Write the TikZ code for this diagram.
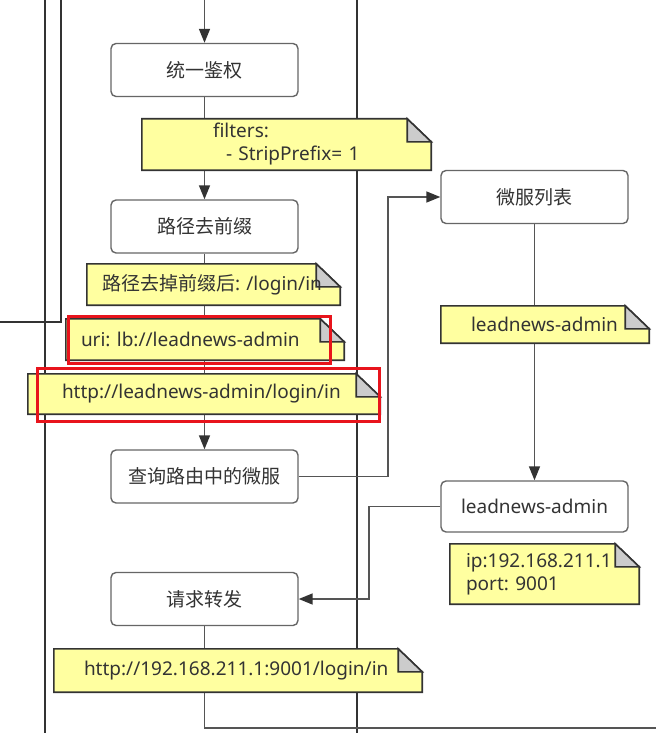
\documentclass[tikz,border=0pt]{standalone}
\usepackage{fontspec}
\setmainfont{Noto Sans}
\newfontfamily\cjk{Noto Sans CJK SC}
\usetikzlibrary{arrows.meta}
\frenchspacing
\definecolor{txt}{HTML}{333333}
\definecolor{boxgray}{HTML}{666666}
\definecolor{linegray}{HTML}{555555}
\definecolor{arrowgray}{HTML}{333333}
\definecolor{lanegray}{HTML}{333333}
\definecolor{notefill}{HTML}{FFFFA0}
\definecolor{noteline}{HTML}{333333}
\definecolor{foldfill}{HTML}{CCCCCC}
\definecolor{redmark}{HTML}{E8141C}
\pgfdeclarelayer{lines}
\pgfdeclarelayer{notes}
\pgfsetlayers{lines,notes,main}
\tikzset{
  box/.style={draw=boxgray, line width=1.4pt, rounded corners=5pt, fill=white,
    minimum width=187pt, minimum height=53pt, text=txt, inner sep=0pt},
  note/.style={inner sep=0pt, text=txt, align=left},
  noteshape/.style={fill=notefill, draw=noteline, line width=1.6pt, line join=miter},
  foldshape/.style={fill=foldfill, draw=noteline, line width=1.6pt, line join=miter},
  conn/.style={draw=linegray, line width=1.5pt},
  arr/.style={conn, -{Triangle[length=14pt,width=11pt,color=arrowgray]}},
  lane/.style={draw=lanegray, line width=1.4pt},
  redbox/.style={draw=redmark, line width=3pt},
}
\newcommand\notepath[1]{%
  \begin{pgfonlayer}{notes}
    \path[noteshape] (#1.north west) -- ([xshift=-24pt]#1.north east)
      -- ([yshift=-23pt]#1.north east) -- (#1.south east) -- (#1.south west) -- cycle;
    \path[foldshape] ([xshift=-24pt]#1.north east) -- ([xshift=-24pt,yshift=-23pt]#1.north east)
      -- ([yshift=-23pt]#1.north east) -- cycle;
  \end{pgfonlayer}}
\begin{document}
\begin{tikzpicture}[x=1pt,y=-1pt,font=\fontsize{19}{23}\selectfont]
\useasboundingbox (0,0) rectangle (656,733);
\begin{pgfonlayer}{lines}
  \fill[white] (0,0) rectangle (656,733);
\end{pgfonlayer}

% boxes
\node[box] (b1) at (204.5,70) {\cjk 统一鉴权};
\node[box] (b2) at (204.5,226.5) {\cjk 路径去前缀};
\node[box] (b3) at (204.5,476.5) {\cjk 查询路由中的微服};
\node[box] (b4) at (204.5,599) {\cjk 请求转发};
\node[box] (r1) at (534.5,197) {\cjk 微服列表};
\node[box, minimum height=51pt] (r2) at (534.5,506.5) {leadnews-admin};

% notes
\node[note, minimum width=289pt, text width=289pt, minimum height=51pt] (n1) at (286.5,144.5)
  {\hspace*{71pt}filters:\\\hspace*{84pt}- StripPrefix= 1};
\node[note, minimum width=253pt, text width=253pt, minimum height=41pt] (n2) at (213.5,284.5)
  {\hspace*{15pt}{\cjk 路径去掉前缀后}: /login/in};
\node[note, minimum width=278pt, text width=278pt, minimum height=41pt] (n3) at (205,339.5)
  {\hspace*{15pt}uri: lb://leadnews-admin};
\node[note, minimum width=352pt, text width=352pt, minimum height=40pt] (n4) at (204,394)
  {\hspace*{34pt}http://leadnews-admin/login/in};
\node[note, minimum width=208pt, text width=208pt, minimum height=37pt] (n5) at (545,324.5)
  {\hspace*{30pt}leadnews-admin};
\node[note, minimum width=189pt, text width=189pt, minimum height=60pt] (n6) at (544.5,574)
  {\hspace*{16pt}ip:192.168.211.1\\\hspace*{16pt}port: 9001};
\node[note, minimum width=368pt, text width=368pt, minimum height=43pt] (n7) at (238,670.5)
  {\hspace*{30pt}http://192.168.211.1:9001/login/in};
\notepath{n1}\notepath{n2}\notepath{n3}\notepath{n4}\notepath{n5}\notepath{n6}\notepath{n7}

% red highlight frames
\draw[redbox] (68,316) rectangle (330,363);
\draw[redbox] (37,368) rectangle (379,421);

% coordinates
\coordinate (top) at (204.5,0);
\coordinate (c1) at (388,476.5);
\coordinate (c2) at (388,197);
\coordinate (d1) at (369,506.5);
\coordinate (d2) at (369,599);
\coordinate (e1) at (204.5,728);
\coordinate (e2) at (656,728);
\coordinate (l1a) at (45,0);
\coordinate (l1b) at (45,733);
\coordinate (l2a) at (357,0);
\coordinate (l2b) at (357,733);
\coordinate (l3a) at (61,0);
\coordinate (l3b) at (61,322);
\coordinate (l3c) at (0,322);

\begin{pgfonlayer}{lines}
  \draw[lane] (l1a) -- (l1b);
  \draw[lane] (l2a) -- (l2b);
  \draw[lane] (l3a) -- (l3b) -- (l3c);
  \draw[arr] (top) -- (b1.north);
  \draw[arr] (b1.south) -- (b2.north);
  \draw[arr] (b2.south) -- (b3.north);
  \draw[arr] (b3.east) -- (c1) -- (c2) -- (r1.west);
  \draw[arr] (r1.south) -- (r2.north);
  \draw[arr] (r2.west) -- (d1) -- (d2) -- (b4.east);
  \draw[conn] (b4.south) -- (e1) -- (e2);
\end{pgfonlayer}
\end{tikzpicture}
\end{document}
